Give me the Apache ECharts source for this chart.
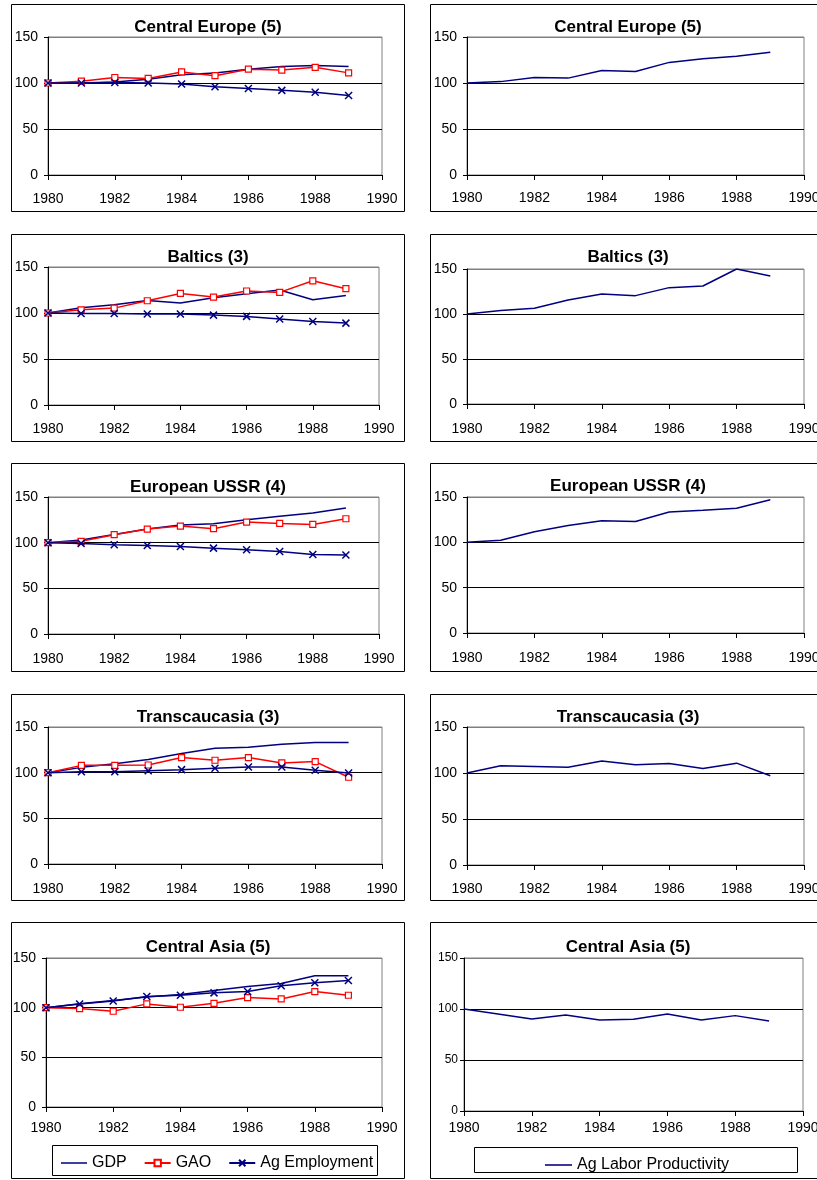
<!DOCTYPE html>
<html><head><meta charset="utf-8">
<script src="https://cdn.jsdelivr.net/npm/echarts@6/dist/echarts.min.js"></script>
<style>html,body{margin:0;padding:0;background:#fff}#c{width:817px;height:1180px}</style>
</head><body><div id="c"></div>
<script>
// ---- data ----
const years = [1980,1981,1982,1983,1984,1985,1986,1987,1988,1989];
const regions = ['Central Europe (5)','Baltics (3)','European USSR (4)','Transcaucasia (3)','Central Asia (5)'];
const seriesNames = ['GDP','GAO','Ag Employment'];
const lpName = 'Ag Labor Productivity';
// Central Europe
const ceGDP = [100,100,101,104,109,111,115,118,119,118];
const ceGAO = [100,102,106,105,112,108,115,114,117,111];
const ceEmp = [100,100,100.5,100,99,96,94,92,90,86.5];
const ceLP  = [100,101.5,106,105.3,113.5,112.5,122.4,126.4,129,133.5];
// Baltics
const baGDP = [100,105.7,109,113.7,110.8,116.6,121,125,114.4,119];
const baGAO = [100,103.5,105.3,113.3,121.3,117.3,123.9,122.4,135,126.4];
const baEmp = [100,99.5,99.5,99,99,97.7,96.3,93.4,90.8,89];
const baLP  = [100,104,106.3,115.5,122.2,120.4,129.3,131.1,150,142.2];
// European USSR
const euGDP = [100,102.8,109,114.9,119.3,120.7,125.1,128.8,132.5,137.9];
const euGAO = [100,101.5,108.7,114.9,118.2,115.3,122.6,121.1,120,126.2];
const euEmp = [100,99.2,97.8,97,95.9,94,92.2,90.3,87.1,86.4];
const euLP  = [100,102.2,111.7,118.5,123.7,123,133.5,135.4,137.6,147];
// Transcaucasia
const trGDP = [100,105.8,109.8,114.3,120.9,126.7,127.8,131,132.9,132.9];
const trGAO = [100,108,108,108.4,116.5,113.6,116.5,110.7,112.1,95];
const trEmp = [100,101.1,101.1,102.2,103.3,104.8,106.3,106.3,102.6,99.6];
const trLP  = [100,107.9,107.2,106.3,113,109,110.4,105,110.7,97];
// Central Asia
const caGDP = [100,104,107.1,110.8,113.2,117.3,121.3,124.4,132.1,132.1];
const caGAO = [100,99.1,96.4,103.8,100.4,104.4,110.2,108.8,116.2,112.5];
const caEmp = [100,103.7,106.7,111.2,112.5,114.9,116.2,122,125,127.4];
const caLP  = [100,95.2,90.3,94.2,89.3,89.9,95.2,89.3,93.5,88.3];

const leftData = [[ceGDP,ceGAO,ceEmp],[baGDP,baGAO,baEmp],[euGDP,euGAO,euEmp],[trGDP,trGAO,trEmp],[caGDP,caGAO,caEmp]];
const rightData = [ceLP,baLP,euLP,trLP,caLP];

// ---- layout ----
const F = "'Liberation Sans', Arial, sans-serif";
const NAVY = '#000080', RED = '#ff0000';
const leftLayout = [
  {left:48,top:37,width:334,height:138,ty:27,xm:17,ym:10,yf:14,box:[11,4,393,207]},
  {left:48,top:267,width:331,height:138,ty:257,xm:17,ym:10,yf:14,box:[11,234,393,207]},
  {left:48,top:497,width:331,height:137,ty:487,xm:18,ym:10,yf:14,box:[11,463,393,208]},
  {left:48,top:727,width:334,height:137,ty:717,xm:18,ym:10,yf:14,box:[11,694,393,206]},
  {left:46,top:958,width:336,height:149,ty:947,xm:14,ym:10,yf:14,box:[11,922,393,256]}
];
const rightLayout = [
  {left:467,top:37,width:337,height:138,ty:27,xm:16,ym:10,yf:14,box:[430,4,400,207]},
  {left:467,top:269,width:337,height:135,ty:257,xm:18,ym:10,yf:14,box:[430,234,400,207]},
  {left:467,top:497,width:337,height:136,ty:486,xm:18,ym:10,yf:14,box:[430,463,400,208]},
  {left:467,top:727,width:337,height:138,ty:717,xm:17,ym:10,yf:14,box:[430,694,400,206]},
  {left:464,top:958,width:339,height:153,ty:947,xm:10,ym:6,yf:12,box:[430,922,400,256]}
];

const grids=[], xAxes=[], yAxes=[], titles=[], series=[], graphics=[];
function addPanel(lay, title, tx){
  const i = grids.length;
  grids.push({left:lay.left, top:lay.top, width:lay.width, height:lay.height, show:true,
    borderColor:'#808080', borderWidth:1, backgroundColor:'transparent', containLabel:false, outerBoundsMode:'none'});
  xAxes.push({gridIndex:i, type:'value', min:1980, max:1990, interval:2,
    axisLine:{show:true, onZero:false, lineStyle:{color:'#000', width:1}},
    axisTick:{show:true, length:5, lineStyle:{color:'#000', width:1}},
    axisLabel:{color:'#000', fontSize:14, fontFamily:F, margin:lay.xm, formatter:v=>String(v), hideOverlap:false, showMinLabel:true, showMaxLabel:true},
    splitLine:{show:false}, minorTick:{show:false}});
  yAxes.push({gridIndex:i, type:'value', min:0, max:150, interval:50,
    axisLine:{show:true, onZero:false, lineStyle:{color:'#000', width:1}},
    axisTick:{show:true, length:4, lineStyle:{color:'#000', width:1}},
    axisLabel:{color:'#000', fontSize:lay.yf, fontFamily:F, margin:lay.ym, formatter:v=>String(v), showMinLabel:true, showMaxLabel:true},
    splitLine:{show:true, lineStyle:{color:['#000','#000','#000','#808080'], width:1, type:'solid'}}});
  titles.push({text:title, left:tx, top:lay.ty, textAlign:'center', textVerticalAlign:'middle', padding:0,
    textStyle:{fontFamily:F, fontSize:17, fontWeight:'bold', color:'#000'}});
  const b = lay.box;
  graphics.push({type:'rect', shape:{x:b[0]+0.5, y:b[1]+0.5, width:b[2], height:b[3]},
    style:{fill:'none', stroke:'#000', lineWidth:1}, silent:true, z:0});
  return i;
}
const toPts = arr => years.map((y,k)=>[y, arr[k]]);
const crossPath = 'path://M0,0L10,10M0,10L10,0';
const lineIcon = 'path://M0,0L52,0L52,3L0,3Z';

for (let r=0;r<5;r++){
  const i = addPanel(leftLayout[r], regions[r], 208);
  const d = leftData[r];
  series.push({name:seriesNames[0], type:'line', xAxisIndex:i, yAxisIndex:i, data:toPts(d[0]),
    symbol:'none', color:NAVY, lineStyle:{color:NAVY, width:1.5}, z:2});
  series.push({name:seriesNames[1], type:'line', xAxisIndex:i, yAxisIndex:i, data:toPts(d[1]),
    symbol:'rect', symbolSize:6, showSymbol:true, color:RED,
    itemStyle:{color:'#fff', borderColor:RED, borderWidth:1.2}, lineStyle:{color:RED, width:1.5}, z:3});
  series.push({name:seriesNames[2], type:'line', xAxisIndex:i, yAxisIndex:i, data:toPts(d[2]),
    symbol:crossPath, symbolSize:7, showSymbol:true, color:NAVY,
    itemStyle:{color:NAVY, borderColor:NAVY, borderWidth:1.5}, lineStyle:{color:NAVY, width:1.5}, z:4});
}
for (let r=0;r<5;r++){
  const i = addPanel(rightLayout[r], regions[r], 628);
  series.push({name:lpName, type:'line', xAxisIndex:i, yAxisIndex:i, data:toPts(rightData[r]),
    symbol:'none', color:NAVY, lineStyle:{color:NAVY, width:1.5}, z:2});
}
// legend boxes
graphics.push({type:'rect', shape:{x:52.5, y:1145.5, width:325, height:30}, style:{fill:'#fff', stroke:'#000', lineWidth:1}, silent:true, z:0});
graphics.push({type:'rect', shape:{x:474.5, y:1147.5, width:323, height:25}, style:{fill:'#fff', stroke:'#000', lineWidth:1}, silent:true, z:0});

const chart = echarts.init(document.getElementById('c'), null, {renderer:'canvas'});
chart.setOption({
  animation:false,
  backgroundColor:'#fff',
  textStyle:{fontFamily:F},
  title:titles,
  grid:grids,
  xAxis:xAxes,
  yAxis:yAxes,
  legend:[
    {data:[{name:seriesNames[0], icon:lineIcon, itemStyle:{color:NAVY}}, seriesNames[1], seriesNames[2]],
     left:61, top:1155, padding:0, itemGap:17, itemWidth:26, itemHeight:8, selectedMode:false,
     textStyle:{fontFamily:F, fontSize:16, color:'#000'}},
    {data:[{name:lpName, icon:lineIcon, itemStyle:{color:NAVY}}], left:545, top:1157, padding:0, itemWidth:27, itemHeight:8, selectedMode:false,
     textStyle:{fontFamily:F, fontSize:16, color:'#000'}}
  ],
  graphic:graphics,
  series:series
});
</script></body></html>
